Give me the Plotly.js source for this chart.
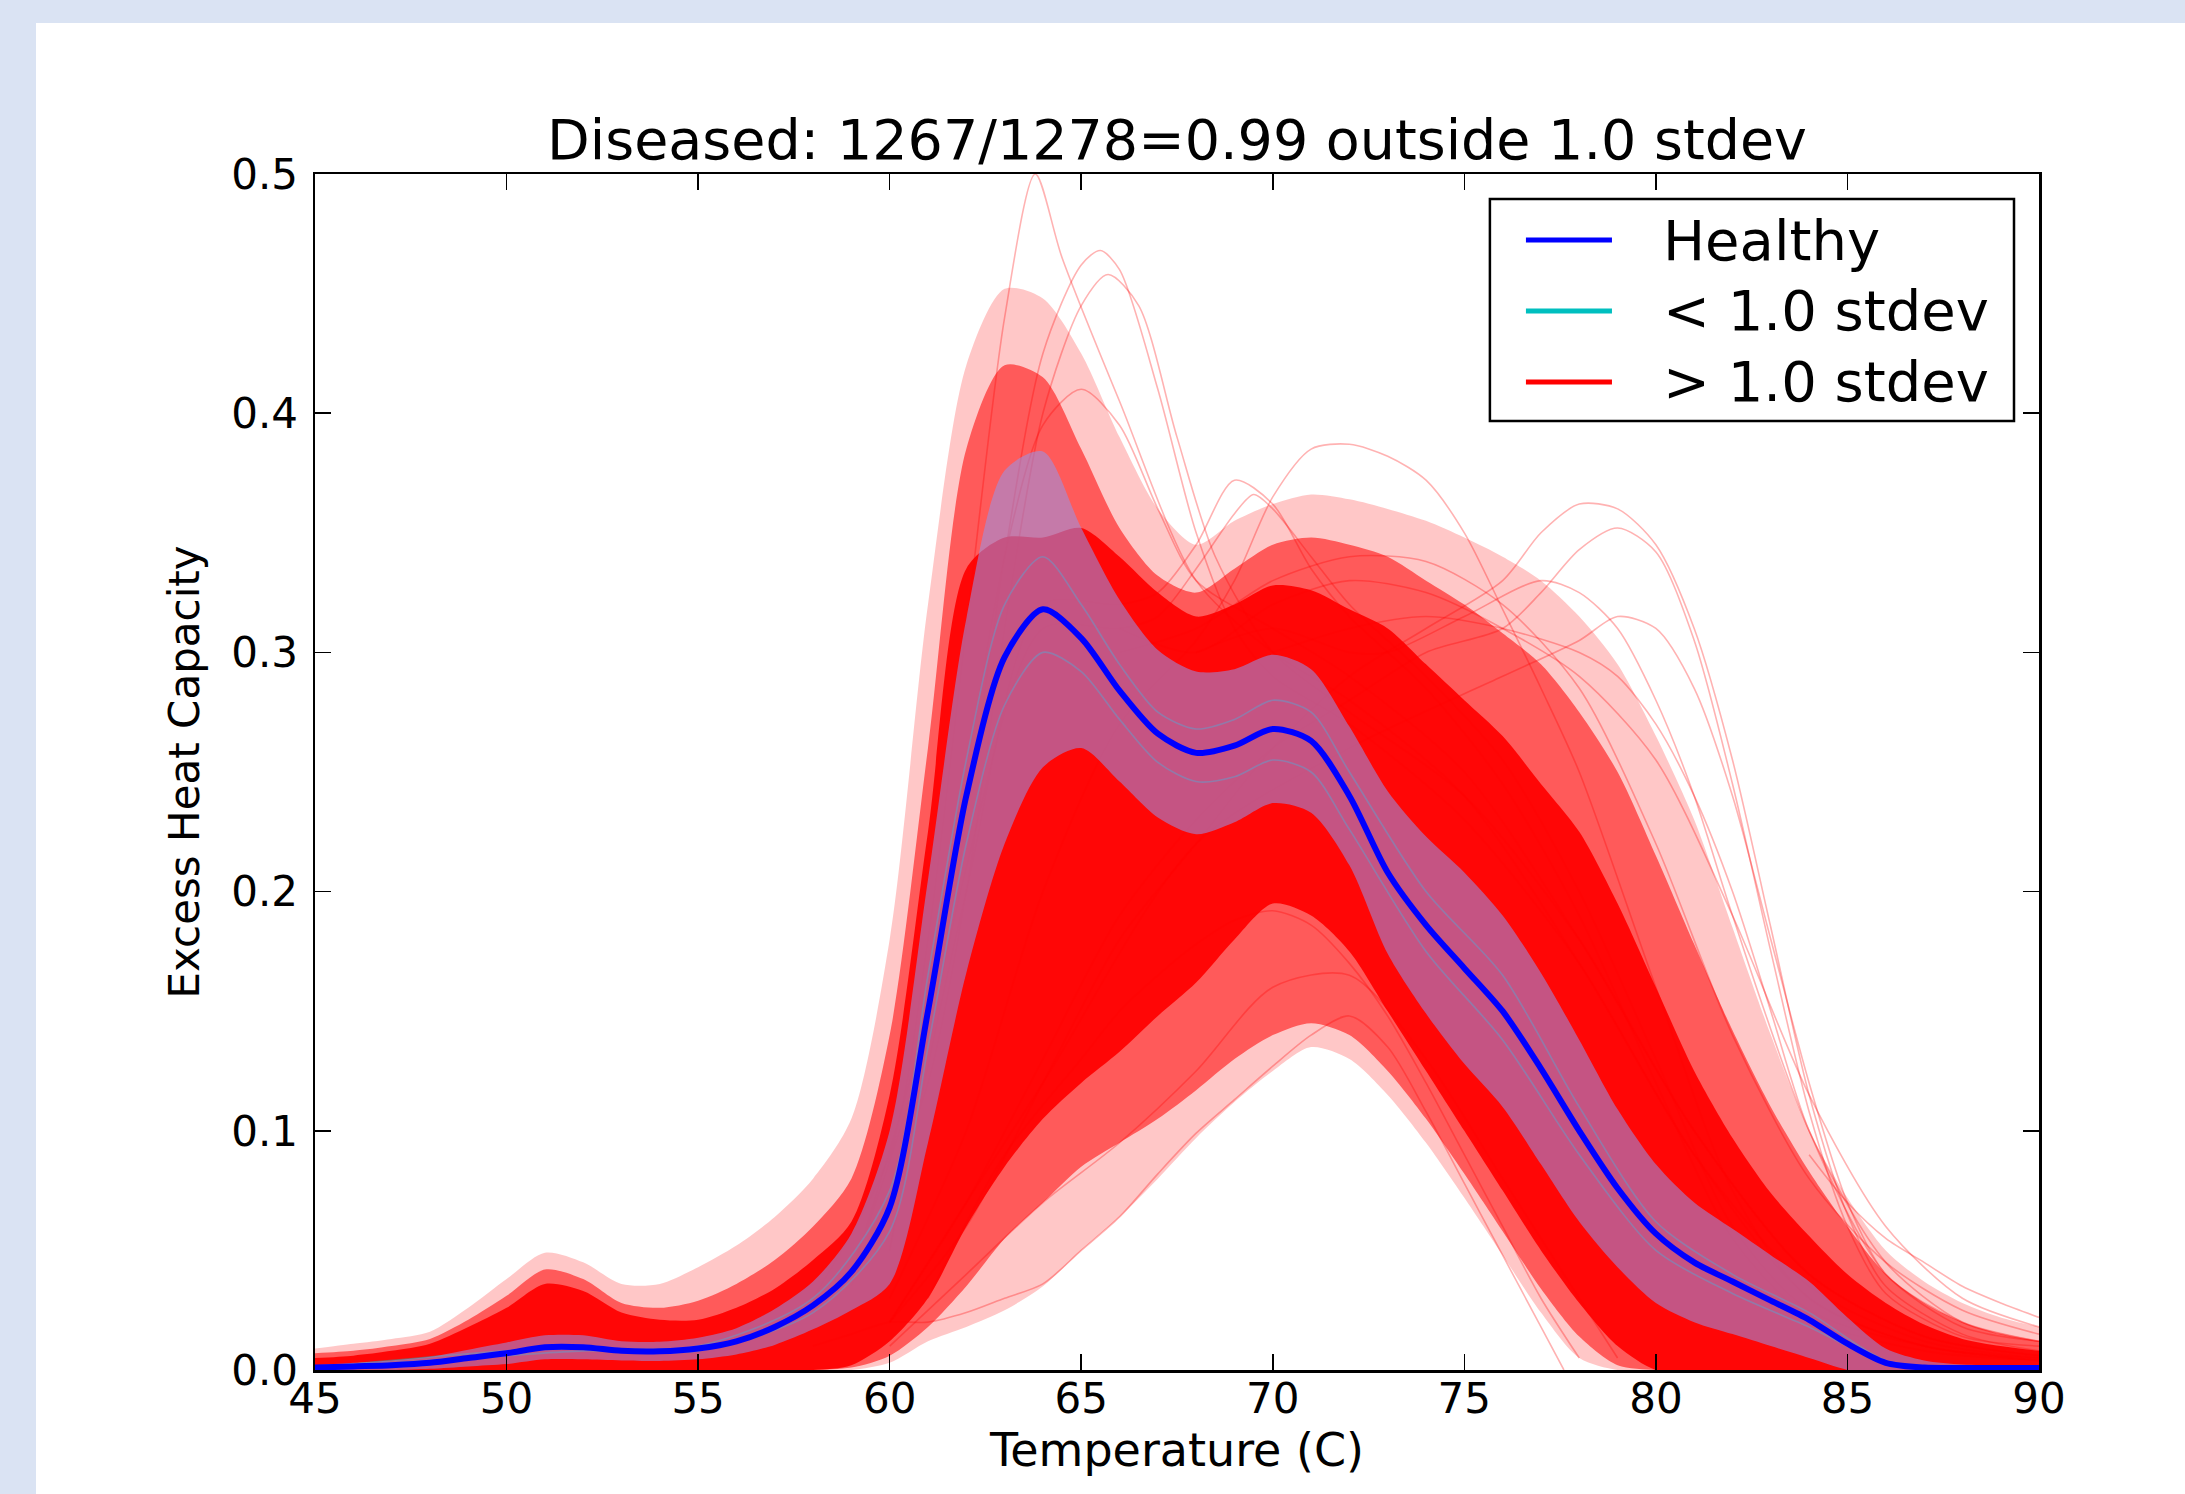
<!DOCTYPE html>
<html>
<head>
<meta charset="utf-8">
<script src="https://cdn.plot.ly/plotly-3.0.1.min.js"></script>
<style>
  html, body { margin: 0; padding: 0; background: #dae3f3; overflow: hidden; }
  #chart { position: absolute; left: 36px; top: 23px; width: 2149px; height: 1471px; background: #ffffff; }
</style>
</head>
<body>
<div id="chart"></div>
<script>
// ---------------- data ----------------
const temperature = [45,46,47,48,49,50,51,52,53,54,55,56,57,58,59,60,61,62,63,64,65,66,67,68,69,70,71,72,73,74,75,76,77,78,79,80,81,82,83,84,85,86,87,88,89,90];

// healthy mean curve and its standard deviation
const healthyMean = [0.001,0.0015,0.002,0.003,0.005,0.007,0.0095,0.0095,0.008,0.0078,0.009,0.012,0.018,0.027,0.041,0.068,0.150,0.240,0.298,0.318,0.306,0.284,0.266,0.258,0.261,0.268,0.263,0.240,0.208,0.186,0.168,0.150,0.126,0.100,0.076,0.057,0.045,0.037,0.029,0.021,0.011,0.003,0.001,0.0008,0.0008,0.0008];
const healthyStd  = [0.001,0.0015,0.002,0.0025,0.0035,0.0045,0.005,0.005,0.004,0.004,0.0045,0.0055,0.0075,0.010,0.016,0.032,0.055,0.074,0.078,0.066,0.046,0.038,0.035,0.034,0.032,0.031,0.030,0.029,0.034,0.037,0.040,0.040,0.040,0.038,0.033,0.029,0.025,0.022,0.019,0.016,0.011,0.006,0.003,0.0015,0.0012,0.0012];

// envelopes of the 1267 diseased curves (> 1.0 stdev): outer, medium and dense density levels
const diseasedOuterHigh = [0.009,0.011,0.013,0.016,0.026,0.038,0.049,0.045,0.036,0.036,0.043,0.052,0.064,0.080,0.105,0.180,0.320,0.420,0.452,0.448,0.425,0.390,0.360,0.345,0.355,0.362,0.366,0.364,0.360,0.355,0.348,0.340,0.330,0.315,0.295,0.265,0.230,0.185,0.140,0.100,0.072,0.050,0.037,0.028,0.022,0.018];
const diseasedOuterLow  = [0,0,0,0,0,0,0,0,0,0,0,0,0,0,0,0.003,0.012,0.018,0.025,0.035,0.050,0.064,0.080,0.097,0.112,0.125,0.135,0.130,0.115,0.095,0.072,0.048,0.024,0.005,0,0,0,0,0,0,0,0,0,0,0,0];
const diseasedMidHigh   = [0.007,0.008,0.010,0.013,0.021,0.031,0.042,0.038,0.028,0.026,0.029,0.036,0.046,0.060,0.080,0.140,0.260,0.385,0.420,0.415,0.385,0.352,0.332,0.325,0.335,0.345,0.348,0.345,0.340,0.330,0.320,0.308,0.295,0.275,0.250,0.215,0.178,0.142,0.110,0.083,0.060,0.040,0.028,0.020,0.015,0.012];
const diseasedMidLow    = [0,0,0,0,0,0,0,0,0,0,0,0,0,0,0.001,0.006,0.018,0.035,0.055,0.070,0.085,0.095,0.105,0.117,0.130,0.140,0.145,0.140,0.125,0.105,0.082,0.058,0.034,0.014,0.002,0,0,0,0,0,0,0,0,0,0,0];
const diseasedDenseHigh = [0.005,0.006,0.008,0.011,0.018,0.026,0.036,0.033,0.024,0.021,0.021,0.026,0.034,0.046,0.062,0.115,0.225,0.335,0.348,0.348,0.352,0.340,0.325,0.315,0.320,0.328,0.326,0.318,0.310,0.295,0.280,0.265,0.245,0.225,0.195,0.160,0.125,0.097,0.074,0.056,0.040,0.028,0.019,0.013,0.010,0.008];
const diseasedDenseLow  = [0,0,0,0,0,0,0,0,0,0,0,0,0,0,0.002,0.012,0.030,0.060,0.085,0.105,0.120,0.133,0.148,0.162,0.180,0.195,0.190,0.175,0.150,0.125,0.100,0.075,0.050,0.028,0.010,0,0,0,0,0,0,0,0,0,0,0];

// individual diseased curves that stand out from the mass
const spikeT = [58,60,61,62,63,63.8,64.5,66,68,70,72,75,78,81,84,87,90];
const spikeC = [0.03,0.09,0.18,0.31,0.44,0.50,0.465,0.405,0.33,0.30,0.28,0.24,0.17,0.09,0.03,0.01,0.004];
const peakBT = [59,61,62,63,64,65,65.5,66,67,68,69,70,72,75,78,81,84,87,90];
const peakBC = [0.04,0.14,0.23,0.34,0.425,0.462,0.468,0.46,0.41,0.35,0.31,0.29,0.27,0.23,0.17,0.09,0.035,0.012,0.005];
const peakCT = [59,61,62,63,64,65,65.7,66.5,67.5,68.5,70,72,75,78,81,84,87,90];
const peakCC = [0.035,0.12,0.20,0.31,0.40,0.445,0.458,0.445,0.39,0.34,0.30,0.275,0.24,0.18,0.10,0.04,0.014,0.006];
const peakDT = [59,61,62,63,64,65,66,67,68,70,72,75,78,81,84,87,90];
const peakDC = [0.04,0.15,0.25,0.34,0.395,0.41,0.395,0.36,0.33,0.31,0.29,0.25,0.18,0.10,0.04,0.014,0.006];
const lateAT = [60,62,64,66,68,69,70,71,72,73,74,75,76,77,78,80,82,84,87,90];
const lateAC = [0.03,0.10,0.20,0.27,0.305,0.33,0.365,0.385,0.387,0.382,0.372,0.35,0.318,0.285,0.25,0.16,0.075,0.03,0.01,0.005];
const midET = [60,62,64,66,67,68,69,70,71,72,74,76,78,80,82,84,87,90];
const midEC = [0.05,0.20,0.32,0.32,0.325,0.345,0.372,0.362,0.335,0.315,0.285,0.245,0.19,0.12,0.055,0.022,0.008,0.004];
const midFT = [60,62,64,66,67,68,69,69.5,70,71,72,74,76,78,80,82,84,87,90];
const midFC = [0.05,0.21,0.31,0.31,0.315,0.335,0.358,0.366,0.36,0.34,0.32,0.29,0.255,0.20,0.13,0.06,0.025,0.01,0.004];
const lateGT = [60,62,64,66,68,70,72,74,76,77,78,79,80,81,82,83,84,85,86,88,90];
const lateGC = [0.02,0.06,0.12,0.18,0.22,0.26,0.29,0.31,0.33,0.35,0.362,0.36,0.345,0.31,0.255,0.185,0.115,0.065,0.035,0.015,0.008];
const lateHT = [60,62,64,66,68,70,72,74,76,77,78,79,80,81,82,83,84,85,86,88,90];
const lateHC = [0.02,0.07,0.13,0.19,0.23,0.26,0.28,0.30,0.31,0.325,0.343,0.352,0.342,0.305,0.245,0.175,0.108,0.06,0.032,0.014,0.01];
const lateIT = [60,64,68,72,76,78,79,80,81,82,83,84,85,86,88,90];
const lateIC = [0.02,0.12,0.22,0.26,0.29,0.305,0.315,0.31,0.285,0.24,0.18,0.12,0.07,0.04,0.018,0.012];
const rightAT = [66,68,70,72,74,76,78,80,82,84,86,88,90];
const rightAC = [0.30,0.31,0.33,0.34,0.338,0.32,0.285,0.22,0.14,0.08,0.045,0.025,0.015];
const rightBT = [66,68,70,72,74,76,78,80,82,84,86,88,90];
const rightBC = [0.31,0.30,0.32,0.33,0.325,0.31,0.29,0.255,0.19,0.115,0.06,0.03,0.018];
const rightCT = [70,72,74,76,78,79,80,81,82,83,84,86,88,90];
const rightCC = [0.30,0.31,0.315,0.31,0.30,0.29,0.27,0.24,0.20,0.15,0.10,0.04,0.02,0.012];
const rightDT = [68,70,72,73,75,77,78,79,80,81,82,84,86,88,90];
const rightDC = [0.30,0.31,0.30,0.30,0.315,0.33,0.325,0.31,0.28,0.24,0.19,0.10,0.045,0.02,0.012];
const tailT = [84,85,86,87,88,89,90];
const tailC = [0.09,0.07,0.055,0.045,0.035,0.028,0.022];
const lowAT = [58,59,60,61,62,63,64,65,66,67,68,69,70,71,72,73,74,75,76,77,77.6];
const lowAC = [0.01,0.015,0.02,0.02,0.024,0.03,0.036,0.05,0.064,0.082,0.099,0.113,0.127,0.14,0.148,0.135,0.108,0.078,0.048,0.018,0];
const lowBT = [61,63,65,66,67,68,69,70,71,72,73,74,75,76,77,78];
const lowBC = [0.03,0.09,0.13,0.15,0.165,0.178,0.188,0.192,0.186,0.17,0.148,0.12,0.09,0.06,0.03,0.005];
const lowCT = [60,62,64,66,68,70,72,74,76,78,79];
const lowCC = [0.01,0.04,0.07,0.095,0.125,0.16,0.165,0.13,0.08,0.03,0.005];

// a few of the 11 curves within 1.0 stdev
const nearAT = [45,50,52,55,58,60,61,62,63,64,65,66,67,68,69,70,71,72,74,76,78,80,82,84,86,88,90];
const nearAC = [0.001,0.008,0.009,0.01,0.03,0.075,0.165,0.255,0.32,0.34,0.32,0.295,0.275,0.268,0.272,0.28,0.275,0.25,0.2,0.165,0.11,0.062,0.04,0.024,0.004,0.001,0.001];
const nearBT = [45,50,52,55,58,60,61,62,63,64,65,66,67,68,69,70,71,72,74,76,78,80,82,84,86,88,90];
const nearBC = [0.001,0.006,0.008,0.008,0.024,0.058,0.135,0.22,0.278,0.30,0.292,0.272,0.254,0.246,0.248,0.255,0.25,0.226,0.175,0.138,0.09,0.05,0.032,0.018,0.003,0.001,0.001];

const yTickVals = [0.0,0.1,0.2,0.3,0.4,0.5];
const xTickVals = [45,50,55,60,65,70,75,80,85,90];
const legendLabels = ['Healthy', '&lt; 1.0 stdev', '&gt; 1.0 stdev'];
const legendColors = ['#0000ff', '#00bfbf', '#ff0000'];

// ---------------- traces ----------------
const FONT = 'DejaVu Sans, Liberation Sans, sans-serif';
const traces = [];
function fillPair(lo, hi, color) {
  traces.push({x: temperature, y: lo, type: 'scatter', mode: 'lines', line: {width: 0, shape: 'spline', smoothing: 0.8}, hoverinfo: 'skip', showlegend: false});
  traces.push({x: temperature, y: hi, type: 'scatter', mode: 'lines', fill: 'tonexty', fillcolor: color, line: {width: 0, shape: 'spline', smoothing: 0.8}, hoverinfo: 'skip', showlegend: false});
}
fillPair(diseasedOuterLow, diseasedOuterHigh, 'rgba(255,0,0,0.22)');
fillPair(diseasedMidLow, diseasedMidHigh, 'rgba(255,0,0,0.55)');
fillPair(diseasedDenseLow, diseasedDenseHigh, 'rgba(255,0,0,0.93)');

const outliers = [[spikeT,spikeC],[peakBT,peakBC],[peakCT,peakCC],[peakDT,peakDC],[lateAT,lateAC],[midET,midEC],[midFT,midFC],[lateGT,lateGC],[lateHT,lateHC],[lateIT,lateIC],
                  [rightAT,rightAC],[rightBT,rightBC],[rightCT,rightCC],[rightDT,rightDC],[tailT,tailC],[lowAT,lowAC],[lowBT,lowBC],[lowCT,lowCC]];
outliers.forEach(function (c) {
  traces.push({x: c[0], y: c[1], type: 'scatter', mode: 'lines', line: {color: 'rgba(255,0,0,0.3)', width: 1.6, shape: 'spline', smoothing: 0.8}, hoverinfo: 'skip', showlegend: false});
});
[[nearAT,nearAC],[nearBT,nearBC]].forEach(function (c) {
  traces.push({x: c[0], y: c[1], type: 'scatter', mode: 'lines', line: {color: 'rgba(0,191,191,0.45)', width: 1.6, shape: 'spline', smoothing: 0.8}, hoverinfo: 'skip', showlegend: false});
});

const bandLo = healthyMean.map(function (m, i) { return m - healthyStd[i]; });
const bandHi = healthyMean.map(function (m, i) { return m + healthyStd[i]; });
fillPair(bandLo, bandHi, 'rgba(150,150,235,0.55)');

traces.push({x: temperature, y: healthyMean, type: 'scatter', mode: 'lines', name: 'Healthy', line: {color: '#0000ff', width: 6, shape: 'spline', smoothing: 0.8}, showlegend: false});

// ---------------- manual legend (matplotlib style) ----------------
const shapes = [{type: 'rect', xref: 'paper', yref: 'paper', x0: 0.6815, x1: 0.9855, y0: 0.7935, y1: 0.9791, line: {color: '#000000', width: 2.5}, fillcolor: '#ffffff', layer: 'above'}];
const rowY = [0.9448, 0.8855, 0.8261];
const annotations = [];
legendLabels.forEach(function (lab, i) {
  shapes.push({type: 'line', xref: 'paper', yref: 'paper', x0: 0.7024, x1: 0.7523, y0: rowY[i], y1: rowY[i], line: {color: legendColors[i], width: 5}, layer: 'above'});
  annotations.push({xref: 'paper', yref: 'paper', x: 0.7805, y: rowY[i], xanchor: 'left', yanchor: 'middle', text: lab, showarrow: false, font: {family: FONT, size: 56, color: '#000000'}});
});

const layout = {
  width: 2149, height: 1471,
  margin: {l: 279, r: 146, t: 151, b: 124, pad: 0},
  paper_bgcolor: '#ffffff', plot_bgcolor: '#ffffff',
  font: {family: FONT, color: '#000000'},
  title: {text: 'Diseased: 1267/1278=0.99 outside 1.0 stdev', font: {family: FONT, size: 55.5, color: '#000000'}, x: 0.5, xref: 'paper', y: 0.921, yref: 'container', yanchor: 'middle'},
  xaxis: {
    range: [45, 90], tickvals: xTickVals, ticktext: xTickVals.map(String),
    showline: true, linecolor: '#000000', linewidth: 2.5, mirror: 'ticks',
    ticks: 'inside', ticklen: 16, tickwidth: 1.5, tickcolor: '#000000',
    showgrid: false, zeroline: false, tickfont: {family: FONT, size: 42, color: '#000000'},
    ticklabelstandoff: -10,
    title: {text: 'Temperature (C)', font: {family: FONT, size: 46, color: '#000000'}, standoff: 8}
  },
  yaxis: {
    range: [0, 0.5], tickvals: yTickVals, ticktext: yTickVals.map(function (v) { return v.toFixed(1); }),
    showline: true, linecolor: '#000000', linewidth: 2.5, mirror: 'ticks',
    ticks: 'inside', ticklen: 16, tickwidth: 1.5, tickcolor: '#000000',
    showgrid: false, zeroline: false, tickfont: {family: FONT, size: 42, color: '#000000'},
    ticklabelstandoff: 6,
    title: {text: 'Excess Heat Capacity', font: {family: FONT, size: 42, color: '#000000'}, standoff: 19}
  },
  shapes: shapes,
  annotations: annotations,
  showlegend: false
};

Plotly.newPlot('chart', traces, layout, {staticPlot: true, displayModeBar: false});
</script>
</body>
</html>
